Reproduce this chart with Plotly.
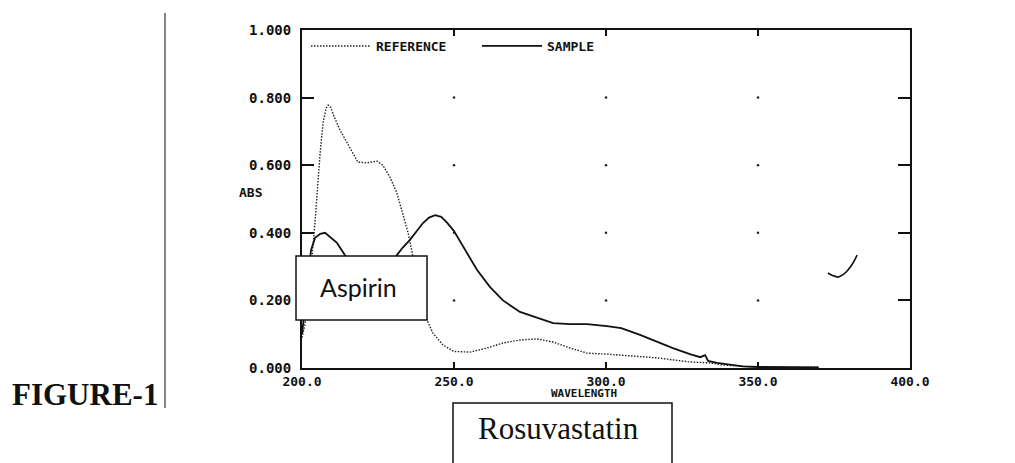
import itertools
import plotly.graph_objects as go

# ---- data ----
ref_wl = [200, 201, 202, 203, 204, 205, 206, 207, 208, 208.6, 209.5, 210.5, 212.5, 215.8, 218.4,
          221.4, 224.7, 226.6, 228.9, 231.2, 233.2, 234.9, 236.5, 238.5, 241, 243, 246.4, 250,
          255.3, 260.8, 266.1, 271.7, 277.3, 282.6, 288.2, 293.8, 300.3, 305.6, 311, 316.8, 322,
          327.6, 334.2, 338.5, 345, 350, 360, 370]
ref_abs = [0.09, 0.13, 0.20, 0.29, 0.40, 0.52, 0.64, 0.73, 0.77, 0.778, 0.77, 0.745, 0.704, 0.651,
           0.609, 0.607, 0.612, 0.600, 0.565, 0.518, 0.458, 0.400, 0.330, 0.240, 0.145, 0.104,
           0.068, 0.049, 0.047, 0.059, 0.074, 0.083, 0.086, 0.077, 0.059, 0.044, 0.041, 0.038,
           0.034, 0.030, 0.024, 0.018, 0.015, 0.009, 0.005, 0.003, 0.002, 0.002]

samp_wl = [200, 201, 202, 203, 204.3, 206, 207.6, 209.5, 211.5, 214.1, 216, 218, 220, 222, 224,
           226, 228, 230, 231.2, 233, 235.5, 237.5, 239.8, 241.8, 243.8, 245.8, 247.7, 250, 253,
           255.5, 257.6, 261.8, 266.1, 271.7, 277.3, 282.6, 288.2, 293.8, 300.3, 305, 311.2,
           316.8, 322, 327.6, 331, 332.6, 333.6, 336.5, 340.8, 345, 350, 360, 370]
samp_abs = [0.10, 0.18, 0.28, 0.35, 0.385, 0.397, 0.400, 0.385, 0.370, 0.334, 0.310, 0.290,
            0.280, 0.278, 0.282, 0.292, 0.305, 0.320, 0.334, 0.355, 0.379, 0.404, 0.429, 0.445,
            0.452, 0.447, 0.430, 0.405, 0.360, 0.320, 0.290, 0.240, 0.200, 0.166, 0.148, 0.133,
            0.130, 0.130, 0.124, 0.118, 0.098, 0.077, 0.059, 0.041, 0.032, 0.038, 0.021, 0.015,
            0.009, 0.005, 0.003, 0.002, 0.002]

# handwritten check mark on the scan
mark_wl = [373.0, 374.5, 376.3, 378.0, 379.6, 381.2, 382.6]
mark_abs = [0.281, 0.274, 0.269, 0.276, 0.290, 0.310, 0.334]

x_ticks = [200, 250, 300, 350, 400]
x_ticklabels = ["200.0", "250.0", "300.0", "350.0", "400.0"]
y_ticks = [0.0, 0.2, 0.4, 0.6, 0.8, 1.0]
y_ticklabels = ["0.000", "0.200", "0.400", "0.600", "0.800", "1.000"]

grid_x = [250, 300, 350]
grid_y = [0.2, 0.4, 0.6, 0.8]

MONO = "DejaVu Sans Mono"

fig = go.Figure()

fig.add_trace(go.Scatter(x=ref_wl, y=ref_abs, mode="lines", name="REFERENCE",
                         line=dict(color="#222222", width=1.4, dash="1.5px,1.5px")))
fig.add_trace(go.Scatter(x=samp_wl, y=samp_abs, mode="lines", name="SAMPLE",
                         line=dict(color="#111111", width=1.8)))

pts = list(itertools.product(grid_x, grid_y))
fig.add_trace(go.Scatter(x=[p[0] for p in pts], y=[p[1] for p in pts], mode="markers",
                         marker=dict(color="#222222", size=2.5), showlegend=False,
                         hoverinfo="skip"))
fig.add_trace(go.Scatter(x=mark_wl, y=mark_abs, mode="lines", showlegend=False,
                         line=dict(color="#111111", width=1.6, shape="spline")))

axis_common = dict(showline=True, linecolor="#111111", linewidth=2, mirror="ticks",
                   ticks="inside", tickcolor="#111111", tickwidth=2, showgrid=False,
                   zeroline=False)

fig.update_xaxes(range=[200, 400], tickvals=x_ticks, ticktext=x_ticklabels, ticklen=6,
                 tickfont=dict(family=MONO, size=13, color="#111111", weight="bold"),
                 **axis_common)
fig.update_yaxes(range=[0, 1], tickvals=y_ticks, ticktext=y_ticklabels, ticklen=12,
                 ticklabelstandoff=6,
                 tickfont=dict(family=MONO, size=14, color="#111111", weight="bold"),
                 **axis_common)

# ---- page geometry (the html body adds an 8px offset) ----
O = 8
W, H = 1015 - O, 463 - O
L, T = 302 - O, 30 - O
R = W - (910 - O)
B = H - (368 - O)
PW, PH = W - L - R, H - T - B


def px(x):
    return (x - O - L) / PW


def py(y):
    return (H - B - (y - O)) / PH


shapes = [
    dict(type="line", xref="paper", yref="paper", x0=px(165), x1=px(165), y0=py(13), y1=py(408),
         line=dict(color="#333333", width=1.2)),
    dict(type="rect", xref="paper", yref="paper", x0=px(296), x1=px(427), y0=py(256), y1=py(320),
         line=dict(color="#111111", width=1.5), fillcolor="white", layer="above"),
    dict(type="rect", xref="paper", yref="paper", x0=px(453), x1=px(672), y0=py(403), y1=py(480),
         line=dict(color="#111111", width=1.5), fillcolor="white", layer="above"),
]

annotations = [
    dict(text="Aspirin", xref="paper", yref="paper", x=px(358), y=py(287), showarrow=False,
         xanchor="center", yanchor="middle",
         font=dict(family="Lato", size=25, color="#111111")),
    dict(text="Rosuvastatin", xref="paper", yref="paper", x=px(558), y=py(428), showarrow=False,
         xanchor="center", yanchor="middle",
         font=dict(family="Liberation Serif", size=31, color="#111111")),
    dict(text="<b>FIGURE-1</b>", xref="paper", yref="paper", x=px(10), y=py(394),
         xanchor="left", yanchor="middle", showarrow=False,
         font=dict(family="Liberation Serif", size=31, color="#111111")),
    dict(text="ABS", xref="paper", yref="paper", x=px(237), y=py(192), xanchor="left",
         yanchor="middle", showarrow=False,
         font=dict(family=MONO, size=13, color="#111111", weight="bold")),
    dict(text="WAVELENGTH", xref="paper", yref="paper", x=px(584), y=py(393),
         xanchor="center", yanchor="middle",
         showarrow=False, font=dict(family=MONO, size=11, color="#111111", weight="bold")),
]

fig.update_layout(
    width=W, height=H,
    margin=dict(l=L, r=R, t=T, b=B, pad=0),
    paper_bgcolor="white", plot_bgcolor="white",
    shapes=shapes, annotations=annotations,
    showlegend=True,
    legend=dict(orientation="h", x=px(306), y=py(31), xanchor="left", yanchor="top",
                bgcolor="rgba(0,0,0,0)", entrywidth=96, entrywidthmode="pixels",
                itemwidth=60,
                font=dict(family=MONO, size=13, color="#111111", weight="bold")),
)

fig.write_html("out.html")
